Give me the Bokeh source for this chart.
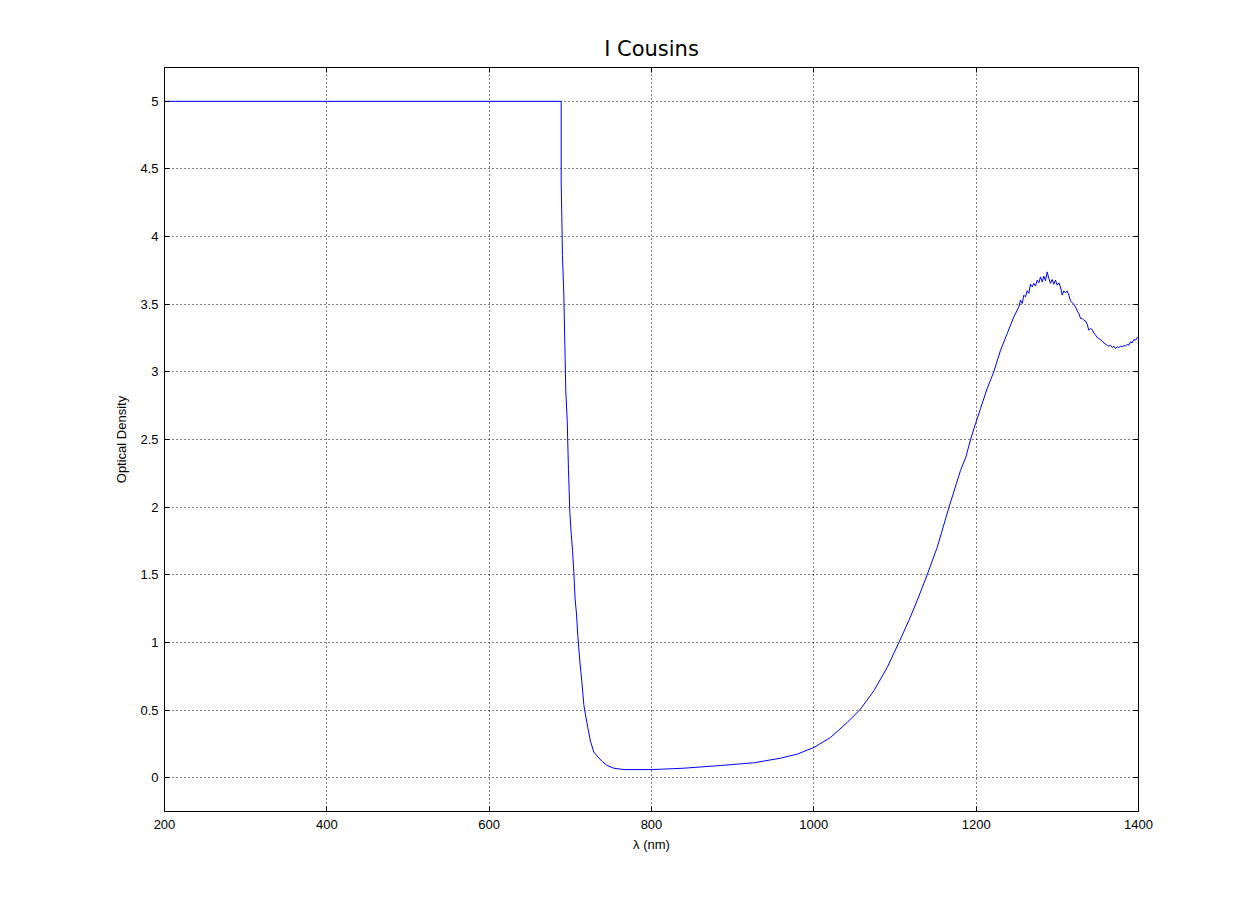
from bokeh.plotting import figure
from bokeh.models import Range1d, LinearAxis, FixedTicker
from bokeh.embed import file_html
from bokeh.resources import INLINE

# ---- data ----
wavelength_nm = [
    200.0, 688.7, 688.7, 689.5, 690.3, 692.0, 693.6, 694.4, 696.1, 697.7,
    699.4, 701.0, 702.7, 704.3, 705.9, 707.6, 709.2, 711.7, 714.2, 716.6,
    719.1, 721.5, 724.8, 728.9, 733.0, 739.2, 745.4, 753.6, 765.9, 800.8,
    839.8, 885.0, 926.0, 958.9, 979.5, 1000.0, 1020.5, 1041.1, 1057.5, 1073.9,
    1090.4, 1104.7, 1117.0, 1127.3, 1139.6, 1152.0, 1166.3, 1180.7, 1187.3, 1193.0,
    1199.2, 1205.3, 1213.5, 1221.8, 1230.0, 1238.2, 1246.4, 1252.6, 1254.6, 1256.7,
    1258.7, 1260.8, 1262.8, 1264.9, 1266.9, 1269.0, 1271.0, 1273.1, 1275.2, 1277.2,
    1279.3, 1281.3, 1283.4, 1285.4, 1287.5, 1289.5, 1291.6, 1293.6, 1295.7, 1297.7,
    1299.8, 1301.9, 1303.9, 1306.0, 1308.0, 1310.1, 1312.1, 1314.2, 1316.2, 1318.3,
    1320.4, 1322.4, 1324.5, 1326.5, 1328.6, 1330.6, 1332.7, 1334.7, 1336.8, 1338.8,
    1340.9, 1342.9, 1345.0, 1347.1, 1349.1, 1351.2, 1353.2, 1355.3, 1357.3, 1359.4,
    1361.4, 1363.5, 1365.5, 1367.6, 1369.6, 1371.7, 1373.7, 1375.8, 1377.8, 1379.9,
    1382.0, 1384.0, 1386.1, 1388.1, 1390.2, 1392.2, 1394.3, 1396.3, 1398.4, 1400.4,
]
optical_density = [
    5.0, 5.0, 4.41, 4.15, 3.86, 3.57, 3.10, 2.86, 2.65, 2.28,
    1.96, 1.81, 1.68, 1.52, 1.32, 1.21, 1.05, 0.86, 0.71, 0.54,
    0.45, 0.37, 0.27, 0.19, 0.16, 0.12, 0.09, 0.07, 0.06, 0.06,
    0.07, 0.09, 0.11, 0.144, 0.174, 0.223, 0.297, 0.408, 0.507, 0.642,
    0.815, 0.998, 1.161, 1.309, 1.499, 1.703, 1.995, 2.271, 2.37, 2.498,
    2.617, 2.728, 2.876, 3.002, 3.16, 3.283, 3.406, 3.480, 3.530, 3.505,
    3.567, 3.554, 3.599, 3.580, 3.648, 3.628, 3.654, 3.634, 3.678, 3.658,
    3.702, 3.665, 3.708, 3.673, 3.739, 3.691, 3.654, 3.683, 3.648, 3.678,
    3.641, 3.658, 3.628, 3.567, 3.599, 3.584, 3.599, 3.567, 3.525, 3.510,
    3.500, 3.480, 3.451, 3.431, 3.395, 3.395, 3.382, 3.377, 3.352, 3.308,
    3.320, 3.313, 3.288, 3.271, 3.254, 3.246, 3.239, 3.229, 3.214, 3.204,
    3.197, 3.190, 3.197, 3.180, 3.190, 3.172, 3.185, 3.180, 3.190, 3.185,
    3.195, 3.190, 3.204, 3.197, 3.222, 3.214, 3.239, 3.234, 3.254, 3.254,
]

x_ticks = [200, 400, 600, 800, 1000, 1200, 1400]
x_tick_labels = ["200", "400", "600", "800", "1000", "1200", "1400"]
y_ticks = [0, 0.5, 1, 1.5, 2, 2.5, 3, 3.5, 4, 4.5, 5]
y_tick_labels = ["0", "0.5", "1", "1.5", "2", "2.5", "3", "3.5", "4", "4.5", "5"]

title_text = "I Cousins"
x_label = "λ (nm)"
y_label = "Optical Density"

FONT = "Liberation Sans"

p = figure(width=1242, height=895, output_backend="svg", toolbar_location=None,
           x_range=Range1d(200, 1400), y_range=Range1d(-0.25, 5.25),
           x_axis_label=x_label, y_axis_label=y_label,
           min_border_left=164, min_border_right=104,
           min_border_top=67, min_border_bottom=84)

p.background_fill_color = "white"
p.border_fill_color = "white"
p.outline_line_color = "black"
p.outline_line_width = 1
p.outline_line_alpha = 1

p.title.text = title_text
p.title.align = "center"
p.title.text_font = "DejaVu Sans"
p.title.text_font_size = "21px"
p.title.text_font_style = "normal"
p.title.text_color = "black"
p.title.standoff = 13

xt = FixedTicker(ticks=x_ticks)
yt = FixedTicker(ticks=y_ticks)

def style_axis(ax, ticker, overrides, show_labels=True):
    ax.ticker = ticker
    ax.major_label_overrides = overrides
    ax.axis_line_color = "black"
    ax.major_tick_line_color = "black"
    ax.major_tick_in = 5
    ax.major_tick_out = 0
    ax.minor_tick_line_color = None
    ax.major_label_text_font = FONT
    ax.major_label_text_font_size = "13px" if show_labels else "0px"
    ax.major_label_text_color = "black"
    ax.axis_label_text_font = FONT
    ax.axis_label_text_font_size = "13px"
    ax.axis_label_text_font_style = "normal"
    ax.axis_label_text_color = "black"

xover = {t: l for t, l in zip(x_ticks, x_tick_labels)}
yover = {t: l for t, l in zip(y_ticks, y_tick_labels)}

style_axis(p.xaxis[0], xt, xover)
style_axis(p.yaxis[0], yt, yover)
p.xaxis[0].major_label_standoff = 8
p.xaxis[0].axis_label_standoff = 5
p.yaxis[0].major_label_standoff = 6
p.yaxis[0].axis_label_standoff = 8

top_ax = LinearAxis()
style_axis(top_ax, xt, {t: "" for t in x_ticks}, show_labels=False)
p.add_layout(top_ax, "above")
right_ax = LinearAxis()
style_axis(right_ax, yt, {t: "" for t in y_ticks}, show_labels=False)
p.add_layout(right_ax, "right")

for g, tk in ((p.xgrid[0], xt), (p.ygrid[0], yt)):
    g.ticker = tk
    g.grid_line_color = "black"
    g.grid_line_dash = "1 3"
    g.grid_line_width = 1
    g.grid_line_alpha = 1

p.line(wavelength_nm, optical_density, line_color="#0000ff", line_width=1)

open("out.html", "w").write(file_html(p, INLINE))
